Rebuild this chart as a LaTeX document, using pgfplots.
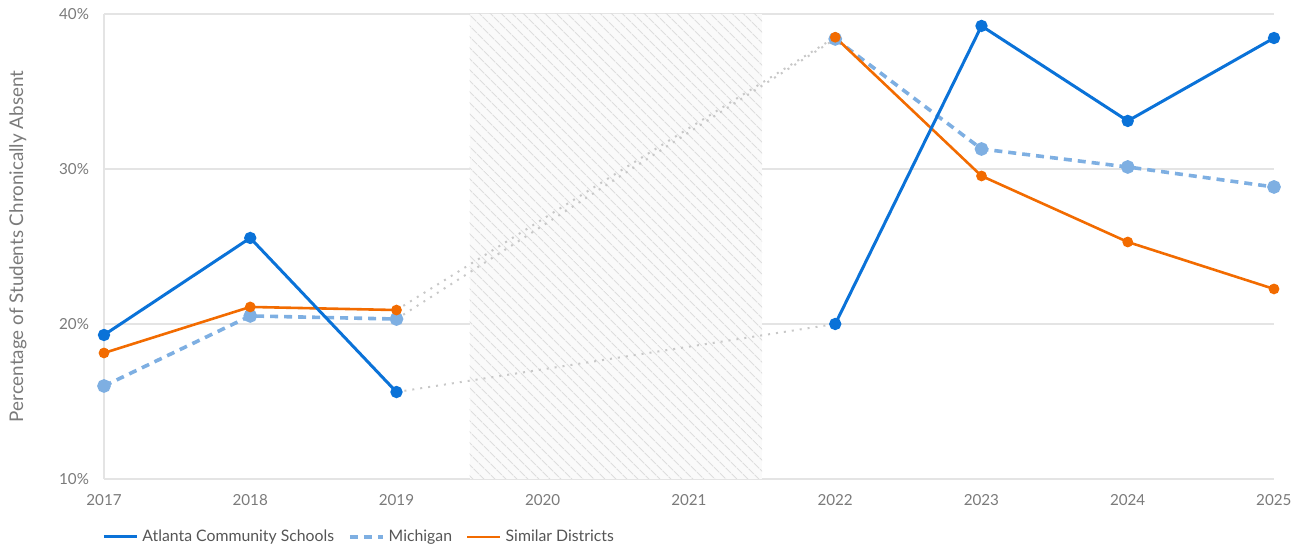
\documentclass[border=0pt]{standalone}
\usepackage{fontspec}
\setmainfont{Lato}
\usepackage{pgfplots}
\pgfplotsset{compat=1.18}
\usetikzlibrary{patterns.meta}

\definecolor{acs}{HTML}{0A72D8}
\definecolor{mich}{HTML}{7EAFE2}
\definecolor{simd}{HTML}{F26B00}
\definecolor{conn}{HTML}{C8C8C8}
\definecolor{gridc}{HTML}{E4E4E4}
\definecolor{tickc}{HTML}{7A7A7A}
\definecolor{legc}{HTML}{555555}

% values in percent
\pgfplotstableread{
year acs mich simd
2017 19.29 16.00 18.13
2018 25.55 20.52 21.10
2019 15.61 20.32 20.90
2022 20.00 38.39 38.50
2023 39.23 31.29 29.55
2024 33.10 30.13 25.29
2025 38.45 28.84 22.26
}\absent

\begin{document}
\begin{tikzpicture}
\begin{axis}[
    name=ax,
    scale only axis,
    width=585pt, height=232.5pt,
    xmin=2017, xmax=2025,
    ymin=10, ymax=40,
    xtick={2017,...,2025},
    ytick={10,20,30,40},
    xticklabel style={/pgf/number format/1000 sep={}},
    yticklabel={\pgfmathprintnumber{\tick}\%},
    /pgf/number format/assume math mode=true,
    tick label style={font=\fontsize{7.6}{9}\selectfont, text=tickc},
    major tick length=0pt,
    yticklabel style={xshift=-4pt},
    xticklabel style={yshift=-4pt},
    axis x line*=bottom,
    axis y line*=left,
    axis line style={draw=gridc, line width=0.8pt, -},
    ymajorgrids,
    grid style={draw=gridc, line width=0.6pt},
    clip=false,
    legend columns=-1,
    legend style={at={(rel axis cs:0,0)}, anchor=west, yshift=-29pt, xshift=-4pt,
        draw=none, fill=none, font=\fontsize{7.9}{9}\selectfont, text=legc,
        /tikz/every even column/.append style={column sep=5pt}},
    legend image code/.code={\draw[#1] (0pt,0pt) -- (16.5pt,0pt);},
]
% gap years 2020-2021
\addplot[draw=none, fill=black!2, forget plot] coordinates {(2019.5,10) (2021.5,10) (2021.5,40) (2019.5,40)} -- cycle;
\addplot[draw=none, pattern={Lines[angle=-45, distance=4pt, line width=0.55pt]}, pattern color=black!13, forget plot]
    coordinates {(2019.5,10) (2021.5,10) (2021.5,40) (2019.5,40)} -- cycle;

\addlegendimage{acs, line width=1.5pt}
\addlegendentry{Atlanta Community Schools}
\addlegendimage{mich, line width=1.8pt, dash pattern=on 4pt off 3pt}
\addlegendentry{Michigan}
\addlegendimage{simd, line width=1.3pt}
\addlegendentry{Similar Districts}

% connectors across the gap
\addplot[conn, line width=1pt, dash pattern=on 1pt off 3pt, forget plot] coordinates {(2019,15.61) (2022,20.00)};
\addplot[conn, line width=1pt, dash pattern=on 1pt off 3pt, forget plot] coordinates {(2019,20.32) (2022,38.39)};
\addplot[conn, line width=1pt, dash pattern=on 1pt off 3pt, forget plot] coordinates {(2019,20.90) (2022,38.50)};

% Michigan
\addplot[mich, line width=1.8pt, dash pattern=on 4pt off 3pt, mark=*, mark size=2.5pt, mark options={solid}, forget plot]
    table[x=year, y=mich, restrict x to domain=2017:2019] {\absent};
\addplot[mich, line width=1.8pt, dash pattern=on 4pt off 3pt, mark=*, mark size=2.5pt, mark options={solid}, forget plot]
    table[x=year, y=mich, restrict x to domain=2022:2025] {\absent};
% Similar Districts
\addplot[simd, line width=1.3pt, mark=*, mark size=2pt, forget plot]
    table[x=year, y=simd, restrict x to domain=2017:2019] {\absent};
\addplot[simd, line width=1.3pt, mark=*, mark size=2pt, forget plot]
    table[x=year, y=simd, restrict x to domain=2022:2025] {\absent};
% Atlanta Community Schools
\addplot[acs, line width=1.5pt, mark=*, mark size=2.3pt, forget plot]
    table[x=year, y=acs, restrict x to domain=2017:2019] {\absent};
\addplot[acs, line width=1.5pt, mark=*, mark size=2.3pt, forget plot]
    table[x=year, y=acs, restrict x to domain=2022:2025] {\absent};
\end{axis}
\node[rotate=90, font=\fontsize{9.4}{11}\selectfont, text=tickc] at ([xshift=-43pt]ax.west) {Percentage of Students Chronically Absent};
\pgfresetboundingbox
\path ([xshift=-52pt, yshift=-35pt]ax.south west) rectangle ([xshift=14.5pt, yshift=7pt]ax.north east);
\end{tikzpicture}
\end{document}
